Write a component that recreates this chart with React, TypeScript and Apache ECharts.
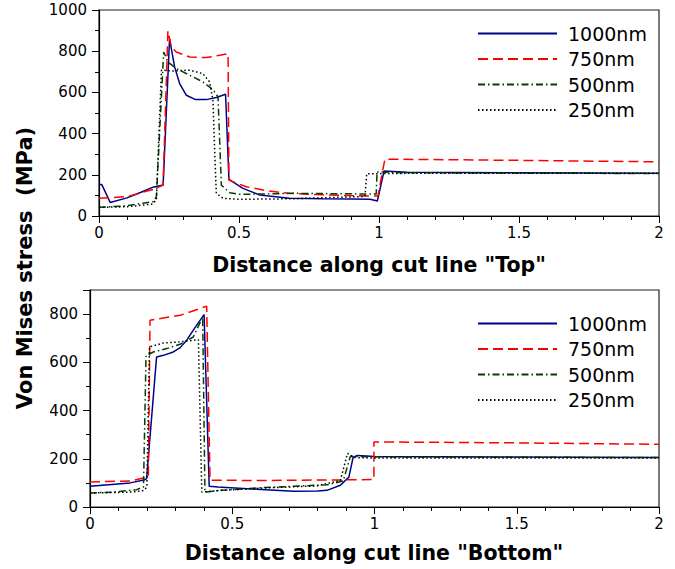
import React, { useEffect, useRef } from "react";
import * as echarts from "echarts";

const seriesNames = ["1000nm", "750nm", "500nm", "250nm"];
const xTicks = [0, 0.5, 1, 1.5, 2];

// Top cut line: [distance, stress MPa]
const top1000 = [[0,155],[0.01,152],[0.04,66],[0.1,88],[0.15,115],[0.193,140],[0.229,150],[0.252,861],[0.27,724],[0.288,643],[0.312,586],[0.345,565],[0.383,565],[0.419,575],[0.452,591],[0.464,178],[0.514,134],[0.574,102],[0.68,86],[0.8,84],[0.9,83],[0.968,81],[0.994,73],[1.018,218],[1.1,212],[1.5,210],[2,208]];
const top750 = [[0,86],[0.1,94],[0.193,129],[0.229,150],[0.246,898],[0.258,821],[0.276,796],[0.324,772],[0.383,769],[0.431,780],[0.461,788],[0.464,174],[0.526,142],[0.598,123],[0.68,110],[0.8,103],[0.9,99],[0.996,97],[1.021,276],[1.5,270],[2,263]];
const top500 = [[0,42],[0.086,48],[0.193,69],[0.205,94],[0.231,796],[0.246,748],[0.276,716],[0.324,683],[0.371,651],[0.407,614],[0.425,578],[0.437,150],[0.467,113],[0.502,105],[0.7,110],[0.95,107],[0.99,107],[0.993,214],[1.1,210],[2,206]];
const top250 = [[0,42],[0.1,45],[0.19,58],[0.205,78],[0.223,708],[0.264,704],[0.324,708],[0.371,691],[0.395,651],[0.407,562],[0.413,320],[0.419,110],[0.443,86],[0.502,81],[0.7,84],[0.95,95],[0.956,205],[1.1,207],[2,207]];

// Bottom cut line
const bot1000 = [[0,86],[0.141,100],[0.193,113],[0.199,118],[0.234,622],[0.258,629],[0.293,643],[0.317,661],[0.34,692],[0.369,744],[0.401,798],[0.419,86],[0.45,83],[0.6,73],[0.716,65],[0.8,66],[0.833,69],[0.88,90],[0.91,124],[0.925,207],[0.94,214],[1.0,209],[1.5,207],[2,205]];
const bot750 = [[0,104],[0.141,108],[0.188,120],[0.205,124],[0.211,775],[0.317,795],[0.41,833],[0.422,111],[0.6,110],[0.95,113],[0.998,114],[0.998,270],[1.5,266],[2,260]];
const bot500 = [[0,58],[0.082,62],[0.164,72],[0.188,83],[0.197,629],[0.223,643],[0.27,657],[0.317,675],[0.363,705],[0.396,788],[0.404,62],[0.457,69],[0.6,80],[0.833,92],[0.89,108],[0.915,210],[1.0,208],[2,205]];
const bot250 = [[0,58],[0.15,62],[0.19,69],[0.2,83],[0.209,664],[0.258,680],[0.317,685],[0.381,694],[0.393,62],[0.45,68],[0.6,78],[0.8,88],[0.88,110],[0.905,222],[0.93,205],[1.0,203],[2,203]];

const FONT = "DejaVu Sans";

const styles: Record<string, any> = {
  "1000nm": { color: "#00008b", width: 1.5, type: "solid" },
  "750nm": { color: "#ff0000", width: 1.5, type: [10, 5] },
  "500nm": { color: "#004000", width: 1.5, type: [7, 3, 1.5, 3] },
  "250nm": { color: "#000000", width: 1.5, type: [1.5, 2.5] },
};

function mkSeries(name: string, data: number[][], idx: number) {
  const s = styles[name];
  return {
    type: "line",
    name,
    data,
    xAxisIndex: idx,
    yAxisIndex: idx,
    symbol: "none",
    showSymbol: false,
    color: s.color,
    lineStyle: { color: s.color, width: s.width, type: s.type },
  };
}

function xAxis(gridIndex: number) {
  return {
    type: "value",
    gridIndex,
    min: 0,
    max: 2,
    interval: 0.5,
    axisLine: { show: true, lineStyle: { color: "#000", width: 1.2 } },
    axisTick: { show: true, length: 7, lineStyle: { color: "#000" } },
    minorTick: { show: true, splitNumber: 5, length: 4, lineStyle: { color: "#000" } },
    splitLine: { show: false },
    axisLabel: {
      color: "#000",
      fontSize: 15,
      fontFamily: FONT,
      margin: 9,
      formatter: (v: number) => (xTicks.includes(v) ? String(v) : ""),
    },
  };
}

function yAxis(gridIndex: number, max: number) {
  return {
    type: "value",
    gridIndex,
    min: 0,
    max,
    interval: 200,
    axisLine: { show: true, lineStyle: { color: "#000", width: 1.2 } },
    axisTick: { show: true, length: 7, lineStyle: { color: "#000" } },
    minorTick: { show: true, splitNumber: 2, length: 4, lineStyle: { color: "#000" } },
    splitLine: { show: false },
    axisLabel: {
      color: "#000",
      fontSize: 15,
      fontFamily: FONT,
      margin: 12,
      showMaxLabel: max % 200 === 0,
      formatter: (v: number) => String(v),
    },
  };
}

function legend(top: number) {
  return {
    data: seriesNames,
    orient: "vertical",
    left: 477,
    top,
    padding: 0,
    itemWidth: 79,
    itemHeight: 14,
    itemGap: 6.5,
    itemStyle: { opacity: 0 },
    textStyle: {
      color: "#000",
      fontSize: 19,
      fontFamily: FONT,
      lineHeight: 18,
      padding: [0, 0, 0, 6],
    },
  };
}

export default function App() {
  const ref = useRef<HTMLDivElement>(null);
  useEffect(() => {
    if (!ref.current) return;
    const chart = echarts.init(ref.current, undefined, { renderer: "svg" });
    chart.setOption({
      animation: false,
      backgroundColor: "#fff",
      grid: [
        { left: 99, top: 10, width: 560, height: 206, show: true, borderColor: "#222", borderWidth: 1.2, backgroundColor: "transparent" },
        { left: 90, top: 290, width: 569, height: 217, show: true, borderColor: "#222", borderWidth: 1.2, backgroundColor: "transparent" },
      ],
      xAxis: [xAxis(0), xAxis(1)],
      yAxis: [yAxis(0, 1000), yAxis(1, 900)],
      legend: [legend(24), legend(314)],
      series: [
        mkSeries("1000nm", top1000, 0),
        mkSeries("750nm", top750, 0),
        mkSeries("500nm", top500, 0),
        mkSeries("250nm", top250, 0),
        mkSeries("1000nm", bot1000, 1),
        mkSeries("750nm", bot750, 1),
        mkSeries("500nm", bot500, 1),
        mkSeries("250nm", bot250, 1),
      ],
      graphic: [
        {
          type: "text",
          x: 379,
          y: 265,
          style: { text: 'Distance along cut line "Top"', fontSize: 20.5, fontWeight: "bold", fontFamily: FONT, fill: "#000", textAlign: "center", textVerticalAlign: "middle" },
        },
        {
          type: "text",
          x: 374,
          y: 553,
          style: { text: 'Distance along cut line "Bottom"', fontSize: 20.5, fontWeight: "bold", fontFamily: FONT, fill: "#000", textAlign: "center", textVerticalAlign: "middle" },
        },
        {
          type: "text",
          x: 25,
          y: 268,
          rotation: Math.PI / 2,
          style: { text: "Von Mises stress  (MPa)", fontSize: 21, fontWeight: "bold", fontFamily: FONT, fill: "#000", textAlign: "center", textVerticalAlign: "middle" },
        },
      ],
    });
    return () => chart.dispose();
  }, []);
  return <div ref={ref} style={{ width: 675, height: 569, position: "absolute", left: 0, top: 0 }} />;
}
